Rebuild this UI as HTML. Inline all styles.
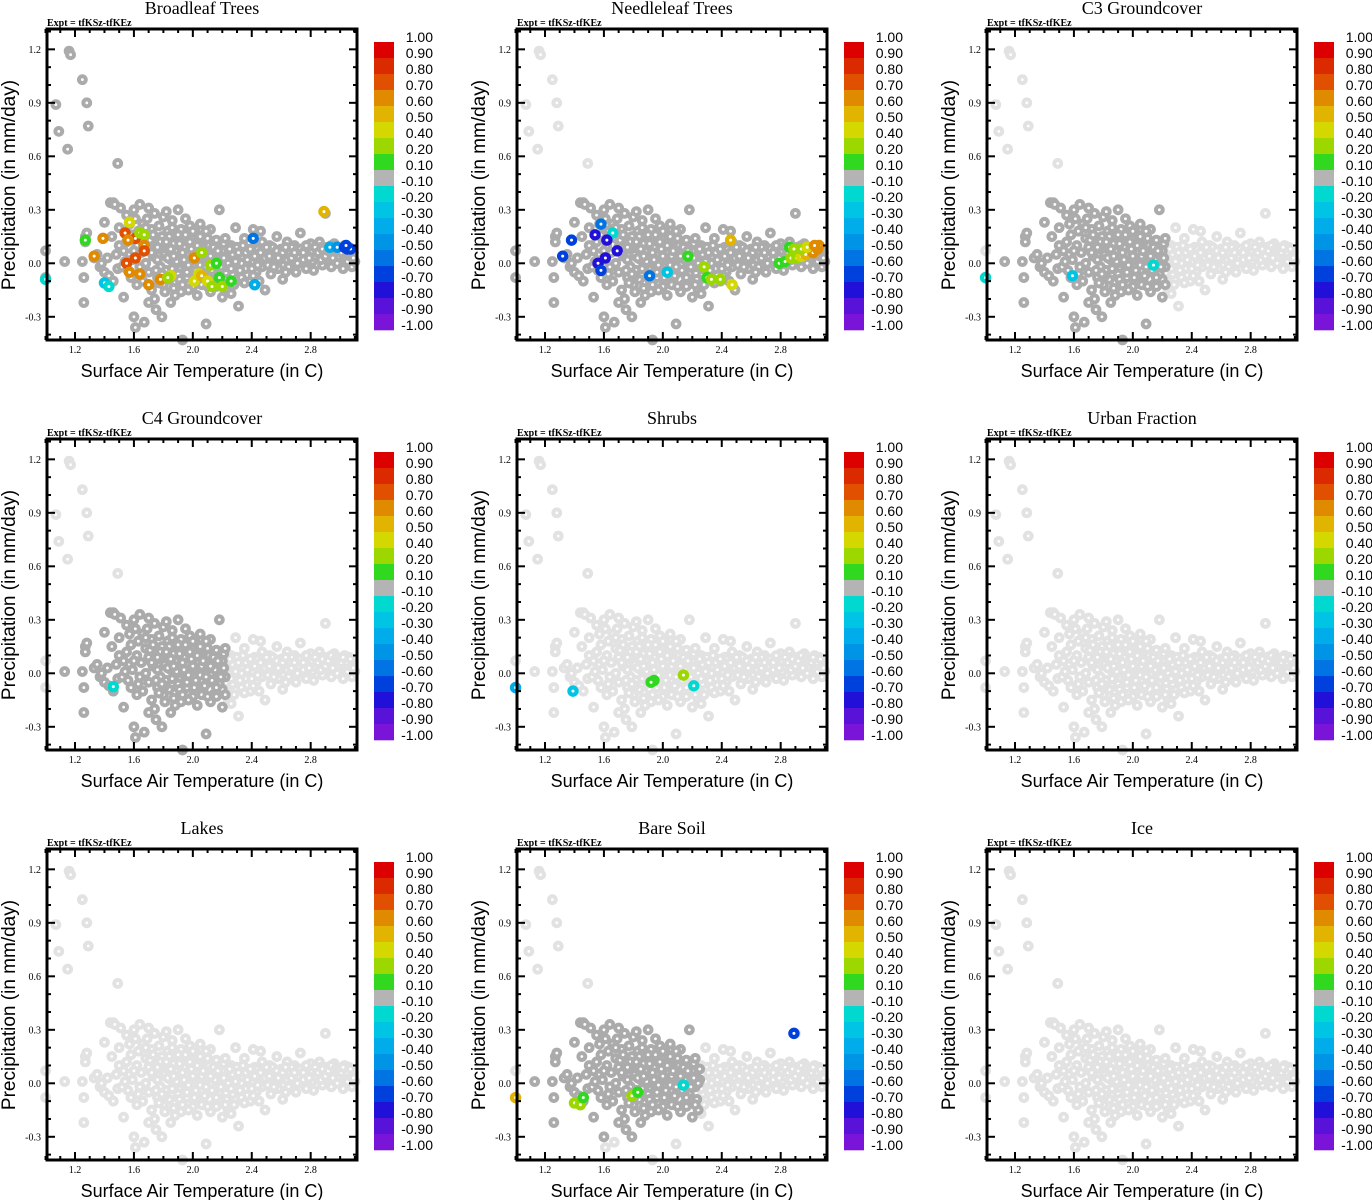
<!DOCTYPE html>
<html><head><meta charset="utf-8"><style>
html,body{margin:0;padding:0;background:#fff;}
svg{display:block;}
</style></head><body>
<svg id="fig" width="1372" height="1200" viewBox="0 0 1372 1200" xmlns="http://www.w3.org/2000/svg"></svg>
<script>
// ---- data ----
const panelTitles = ["Broadleaf Trees","Needleleaf Trees","C3 Groundcover","C4 Groundcover","Shrubs","Urban Fraction","Lakes","Bare Soil","Ice"];
const xTicks = [1.2,1.6,2.0,2.4,2.8];
const xTickLabels = ["1.2","1.6","2.0","2.4","2.8"];
const yTicks = [-0.3,0.0,0.3,0.6,0.9,1.2];
const yTickLabels = ["-0.3","0.0","0.3","0.6","0.9","1.2"];
const cbEdges = [1.0,0.9,0.8,0.7,0.6,0.5,0.4,0.2,0.1,-0.1,-0.2,-0.3,-0.4,-0.5,-0.6,-0.7,-0.8,-0.9,-1.0];
const cbLabels = ["1.00","0.90","0.80","0.70","0.60","0.50","0.40","0.20","0.10","-0.10","-0.20","-0.30","-0.40","-0.50","-0.60","-0.70","-0.80","-0.90","-1.00"];
const cbColors = ["#dc0000","#dc2a00","#e05000","#e08a00","#e0b400","#d4d800","#9cd800","#30d820","#b4b4b4","#00d8d0","#00c4e4","#00acea","#0094e6","#0074e2","#0040dc","#2010d8","#5812d8","#7a14d8"];
const basePts = [
[1.07,0.89],[1.09,0.74],[1.15,0.64],[1.16,1.19],[1.17,1.17],[1.25,1.03],[1.28,0.90],[1.29,0.77],[1.49,0.56],[1.0,0.07],[1.0,-0.08],
[1.13,0.01],[1.25,0.01],[1.26,-0.08],[1.26,-0.22],[1.27,0.15],[1.28,0.17],[1.27,0.12],[1.33,0.03],[1.35,0.05],[1.37,-0.02],[1.38,0.00],[1.40,-0.05],[1.40,0.23],[1.42,0.03],[1.43,-0.07],[1.44,0.34],[1.46,0.34],[1.45,0.15],[1.47,0.33],[1.46,-0.10],[1.48,0.05],[1.49,-0.03],[1.50,0.20],[1.50,0.10],[1.51,0.31],[1.52,-0.02],[1.53,-0.19],[1.54,0.01],[1.55,0.27],[1.55,0.12],[1.56,-0.04],[1.57,0.05],[1.58,0.16],[1.58,-0.08],[1.59,0.02],[1.60,0.30],[1.60,-0.30],[1.61,-0.36],[1.62,0.10],[1.62,-0.12],[1.63,0.18],[1.64,0.33],[1.64,-0.02],[1.65,0.06],[1.66,0.22],[1.66,-0.10],[1.67,-0.33],[1.68,0.14],[1.68,0.00],[1.69,0.25],[1.70,-0.05],[1.70,0.09],[1.72,0.19],[1.72,-0.15],[1.73,0.04],[1.74,-0.20],[1.74,0.28],[1.75,0.12],[1.76,-0.08],[1.76,0.02],[1.77,0.21],[1.78,-0.02],[1.78,0.08],[1.79,0.15],[1.80,-0.12],[1.80,0.26],[1.81,0.05],[1.82,-0.04],[1.83,0.18],[1.84,0.10],[1.84,-0.09],[1.85,0.02],[1.86,0.24],[1.87,-0.14],[1.88,0.07],[1.88,-0.01],[1.89,0.13],[1.90,0.30],[1.90,-0.06],[1.91,0.04],[1.92,0.19],[1.92,-0.11],[1.93,-0.43],[1.94,0.09],[1.95,-0.02],[1.96,0.14],[1.96,-0.08],[1.97,0.05],[1.98,0.21],[1.99,-0.04],[2.00,0.10],[2.00,-0.13],[2.01,0.02],[2.02,0.17],[2.03,-0.07],[2.04,0.06],[2.05,-0.01],[2.06,0.12],[2.07,-0.10],[2.08,0.03],[2.09,-0.34],[2.10,0.08],[2.11,-0.05],[2.12,0.19],[2.13,0.00],[2.14,-0.12],[2.15,0.06],[2.16,0.13],[2.17,-0.03],[2.18,0.30],[2.19,0.04],[2.20,-0.09],[2.21,0.11],[2.22,-0.02],[2.23,0.07],[2.24,-0.15],[2.25,0.02],[2.26,0.10],[2.27,-0.06],[2.28,0.04],[2.29,0.20],[2.30,-0.01],[2.31,-0.24],[2.32,0.08],[2.33,-0.08],[2.34,0.03],[2.35,0.14],[2.36,-0.03],[2.38,0.06],[2.39,-0.10],[2.40,0.01],[2.41,0.19],[2.42,0.09],[2.43,-0.05],[2.45,0.04],[2.46,0.18],[2.47,-0.02],[2.48,0.07],[2.49,-0.15],[2.50,0.02],[2.52,0.10],[2.53,-0.06],[2.55,0.05],[2.56,0.00],[2.57,0.15],[2.58,-0.03],[2.60,0.08],[2.61,-0.09],[2.62,0.03],[2.64,0.12],[2.65,-0.02],[2.66,0.06],[2.68,0.01],[2.69,0.10],[2.70,-0.05],[2.72,0.04],[2.73,0.17],[2.74,0.00],[2.76,0.08],[2.77,-0.03],[2.78,0.05],[2.80,0.11],[2.81,0.01],[2.82,-0.04],[2.84,0.07],[2.85,0.03],[2.86,0.12],[2.88,-0.01],[2.89,0.06],[2.90,0.28],[2.91,0.09],[2.92,0.02],[2.94,-0.02],[2.95,0.07],[2.96,0.11],[2.97,0.04],[2.98,0.00],[3.00,0.08],[3.01,0.03],[3.02,-0.03],[3.03,0.10],[3.04,0.05],[3.05,0.01],[3.06,0.09],[3.07,0.04],[3.08,-0.02],[3.09,0.06],[3.10,0.01],
[1.72,0.06],[1.75,-0.04],[1.78,0.12],[1.81,-0.07],[1.83,0.03],[1.86,-0.03],[1.87,0.11],[1.89,0.01],[1.91,-0.09],[1.93,0.06],[1.95,0.16],[1.97,-0.01],[1.99,0.08],[2.02,-0.04],[2.04,0.13],[2.06,0.04],[2.08,-0.07],[2.11,0.10],[2.13,-0.04],[2.15,0.02],[2.18,-0.06],[2.20,0.07],[2.22,0.14],[2.24,0.00],[2.27,0.05],[2.30,0.09],[2.33,0.00],[2.36,0.06],[2.40,-0.03],[2.44,0.08],[2.47,0.12],[2.51,-0.01],[2.54,0.09],[2.59,0.02],[2.63,-0.05],[2.67,0.09],[2.71,0.07],[2.75,0.02],[2.79,0.08],[2.83,0.04],[2.87,0.09],[2.93,0.05],[2.99,0.04],[3.03,0.06],[1.68,0.20],[1.71,0.13],[1.84,0.15],[1.92,-0.16],[2.03,-0.18],[2.12,-0.16],[2.20,-0.19],[2.28,-0.12],[2.45,-0.10],[2.05,0.22],[1.95,0.25],[1.85,-0.22],[1.75,-0.26],[1.79,-0.30],
[1.73,0.16],[1.76,0.09],[1.79,-0.06],[1.82,0.12],[1.85,0.08],[1.87,0.04],[1.90,0.16],[1.91,0.11],[1.94,0.02],[1.96,-0.05],[1.98,0.12],[2.00,0.04],[2.01,-0.08],[2.03,0.10],[2.05,0.15],[2.07,0.07],[2.09,-0.02],[2.10,0.14],[2.12,0.04],[2.14,0.09],[2.16,-0.08],[2.17,0.07],[2.19,-0.02],[2.21,0.03],[2.23,-0.09],[2.25,0.08],[2.26,-0.03],[2.29,0.01],[2.31,0.06],[2.32,-0.04],[2.34,0.10],[2.37,0.02],[2.39,0.08],[2.41,-0.07],[2.42,0.04],[2.44,-0.01],[2.46,0.06],[2.49,0.03],[2.50,0.09],[2.52,0.04],[2.55,-0.02],[2.57,0.07],[2.58,0.03],[2.61,0.06],[2.63,0.09],[2.64,0.02],[2.67,0.03],[2.69,0.06],[2.71,0.00],[2.73,0.08],[2.75,0.06],[2.77,0.10],[2.79,0.03],[2.81,0.07],[2.83,0.09],[2.85,0.06],[2.87,0.02],[2.88,0.08],[2.90,0.04],[2.92,0.07],[2.94,0.10],[2.95,0.03],[2.97,0.08],[2.99,0.07],[3.01,0.06],[3.02,0.09],[3.05,0.06],[3.07,0.08],[3.09,0.03],[1.93,-0.12],[1.97,-0.15],[2.06,-0.12],[2.10,-0.13],[2.16,-0.13],[2.22,-0.12],[2.26,-0.17],[2.35,-0.11],[1.88,-0.18],[1.81,-0.16],[1.77,-0.11],[1.70,-0.22],[1.63,-0.06],[1.60,0.07],[1.53,0.07],[1.57,0.22],[1.61,0.25],[1.70,0.31],[1.82,0.29],[1.86,0.20],[2.00,0.18],[2.09,0.18]
];
// dark-gray region per panel: [xmin,xmax,ymin,ymax]
const darkBoxes = [
[0.9,3.2,-1,1.3],[0.9,3.2,-1,0.45],[1.1,2.22,-0.5,0.4],[1.1,2.22,-0.5,0.4],[0,0,0,0],[0,0,0,0],[0,0,0,0],[1.1,2.25,-0.3,0.4],[0,0,0,0]
];
const coloredPts = [
 [[1.27,0.13,0.15],[1.39,0.14,0.6],[1.33,0.04,0.6],[1.0,-0.09,-0.15],[1.57,0.23,0.45],[1.54,0.17,0.75],[1.61,0.14,0.75],[1.56,0.13,0.65],[1.61,0.03,0.75],[1.55,0.0,0.75],[1.57,-0.05,0.6],[1.64,-0.06,0.6],[1.64,0.17,0.3],[1.67,0.16,0.3],[1.67,0.10,0.6],[1.67,0.07,0.75],[1.70,-0.12,0.6],[1.78,-0.09,0.6],[1.40,-0.11,-0.3],[1.43,-0.13,-0.2],[1.85,-0.07,0.45],[1.83,-0.08,0.3],[2.01,0.03,0.6],[2.06,0.06,0.3],[2.12,-0.01,0.3],[2.16,0.0,0.15],[2.01,-0.10,0.45],[2.04,-0.06,0.45],[2.06,-0.07,0.55],[2.10,-0.10,0.45],[2.13,-0.13,0.3],[2.18,-0.08,0.15],[2.20,-0.13,0.3],[2.26,-0.10,0.15],[2.41,0.14,-0.6],[2.42,-0.12,-0.4],[2.89,0.29,0.55],[2.93,0.09,-0.35],[2.98,0.09,-0.45],[3.03,0.09,-0.65],[3.05,0.08,-0.7],[3.07,0.08,-0.7],[3.04,0.10,-0.7]],
 [[1.38,0.13,-0.7],[1.32,0.04,-0.7],[1.58,0.22,-0.6],[1.54,0.16,-0.8],[1.66,0.17,-0.2],[1.62,0.13,-0.8],[1.69,0.07,-0.8],[1.61,0.03,-0.8],[1.56,0.0,-0.8],[1.58,-0.04,-0.65],[1.91,-0.07,-0.55],[2.03,-0.05,-0.3],[2.17,0.04,0.15],[2.28,-0.02,0.3],[2.30,-0.08,0.15],[2.33,-0.09,0.3],[2.39,-0.09,0.3],[2.47,-0.12,0.45],[2.46,0.13,0.55],[2.79,0.0,0.15],[2.83,0.01,0.15],[2.87,0.03,0.3],[2.91,0.03,0.3],[2.94,0.04,0.45],[2.97,0.05,0.55],[3.02,0.06,0.6],[3.05,0.08,0.6],[3.06,0.10,0.6],[2.86,0.09,0.15],[2.89,0.08,0.3],[2.94,0.08,0.3],[2.98,0.09,0.45],[3.03,0.10,0.6]],
 [[1.0,-0.08,-0.15],[1.59,-0.07,-0.3],[2.14,-0.01,-0.2]],
 [[1.46,-0.075,-0.15]],
 [[1.0,-0.08,-0.4],[1.39,-0.10,-0.3],[1.94,-0.04,0.15],[1.92,-0.05,0.15],[2.14,-0.01,0.3],[2.21,-0.07,-0.15]],
 [],
 [],
 [[1.0,-0.08,0.55],[1.40,-0.11,0.3],[1.44,-0.12,0.3],[1.46,-0.08,0.15],[1.79,-0.07,0.3],[1.83,-0.05,0.15],[2.14,-0.01,-0.15],[2.89,0.28,-0.7]],
 []
];
// ---- drawing ----
const NS="http://www.w3.org/2000/svg";
const svg=document.getElementById('fig');
function mk(tag,attrs,parent){const e=document.createElementNS(NS,tag);for(const k in attrs)e.setAttribute(k,attrs[k]);(parent||svg).appendChild(e);return e;}
const PX0=47,PX1=357,PY0=29,PY1=340;
function sx(x){return 75+(x-1.2)*147.3;}
function sy(y){return 263.3-y*178.3;}
function colorFor(v){for(let i=0;i<cbColors.length;i++){if(v<=cbEdges[i]&&v>=cbEdges[i+1])return cbColors[i];}return cbColors[8];}
const serif='"Liberation Serif",serif', sans='"Liberation Sans",sans-serif';
for(let p=0;p<9;p++){
  const c=p%3,r=Math.floor(p/3);
  const g=mk('g',{transform:`translate(${c*470},${r*410})`});
  
  
  const t=mk('text',{x:202,y:14,'text-anchor':'middle','font-family':serif,'font-size':18},g);t.textContent=panelTitles[p];
  
  
  const ex=mk('text',{x:47,y:26,'font-family':serif,'font-size':10,'font-weight':'bold'},g);ex.textContent='Expt = tfKSz-tfKEz';
  
  
  const pg=mk('g',{},g);
  
  
  const b=darkBoxes[p];
  const light=[],dark=[];
  basePts.forEach(q=>{(q[0]>=b[0]&&q[0]<=b[1]&&q[1]>=b[2]&&q[1]<=b[3]?dark:light).push(q);});
  light.forEach(q=>{const e=mk('circle',{cx:sx(q[0]),cy:sy(q[1]),r:3.4,fill:'#fff',stroke:'#e2e2e2','stroke-width':4},pg);
    
    });
  dark.forEach(q=>{const e=mk('circle',{cx:sx(q[0]),cy:sy(q[1]),r:3.4,fill:'#fff',stroke:'#ababab','stroke-width':4},pg);
    
    });
  coloredPts[p].forEach(q=>{const e=mk('circle',{cx:sx(q[0]),cy:sy(q[1]),r:3.6,fill:'#fff',stroke:colorFor(q[2]),'stroke-width':4.2},pg);
    
    });
  const fr=mk('rect',{x:PX0,y:PY0,width:PX1-PX0,height:PY1-PY0,fill:'none',stroke:'#000','stroke-width':3},g);
  
  
  for(let v=1.0;v<=3.11;v+=0.1){const X=sx(v);const major=xTicks.some(m=>Math.abs(m-v)<1e-6);const L=major?8:4;
    mk('line',{x1:X,y1:PY1,x2:X,y2:PY1-L,stroke:'#000','stroke-width':2},g);mk('line',{x1:X,y1:PY0,x2:X,y2:PY0+L,stroke:'#000','stroke-width':2},g);}
  for(let v=-0.4;v<=1.31;v+=0.1){const Y=sy(v);if(Y<PY0||Y>PY1)continue;const major=yTicks.some(m=>Math.abs(m-v)<1e-6);const L=major?8:4;
    mk('line',{x1:PX0,y1:Y,x2:PX0+L,y2:Y,stroke:'#000','stroke-width':2},g);mk('line',{x1:PX1,y1:Y,x2:PX1-L,y2:Y,stroke:'#000','stroke-width':2},g);}
  xTicks.forEach((v,i)=>{const e=mk('text',{x:sx(v),y:353,'text-anchor':'middle','font-family':serif,'font-size':10},g);e.textContent=xTickLabels[i];
    
    });
  yTicks.forEach((v,i)=>{const e=mk('text',{x:41,y:sy(v)+3.5,'text-anchor':'end','font-family':serif,'font-size':10},g);e.textContent=yTickLabels[i];
    
    });
  const xt=mk('text',{x:202,y:377,'text-anchor':'middle','font-family':sans,'font-size':18},g);xt.textContent='Surface Air Temperature (in C)';
  
  
  const yt=mk('text',{x:0,y:0,'text-anchor':'middle','font-family':sans,'font-size':19,transform:'translate(15,185) rotate(-90)'},g);yt.textContent='Precipitation (in mm/day)';
  
  
  const cb=mk('g',{},g);
  
  
  cbColors.forEach((col,i)=>{const e=mk('rect',{x:374,y:42+16*i,width:20,height:16.3,fill:col},cb);
    
    });
  cbLabels.forEach((lb,i)=>{const e=mk('text',{x:433,y:42+16*i,'text-anchor':'end','font-family':sans,'font-size':14},cb);e.textContent=lb;
    
    });
}
</script>
</body></html>
